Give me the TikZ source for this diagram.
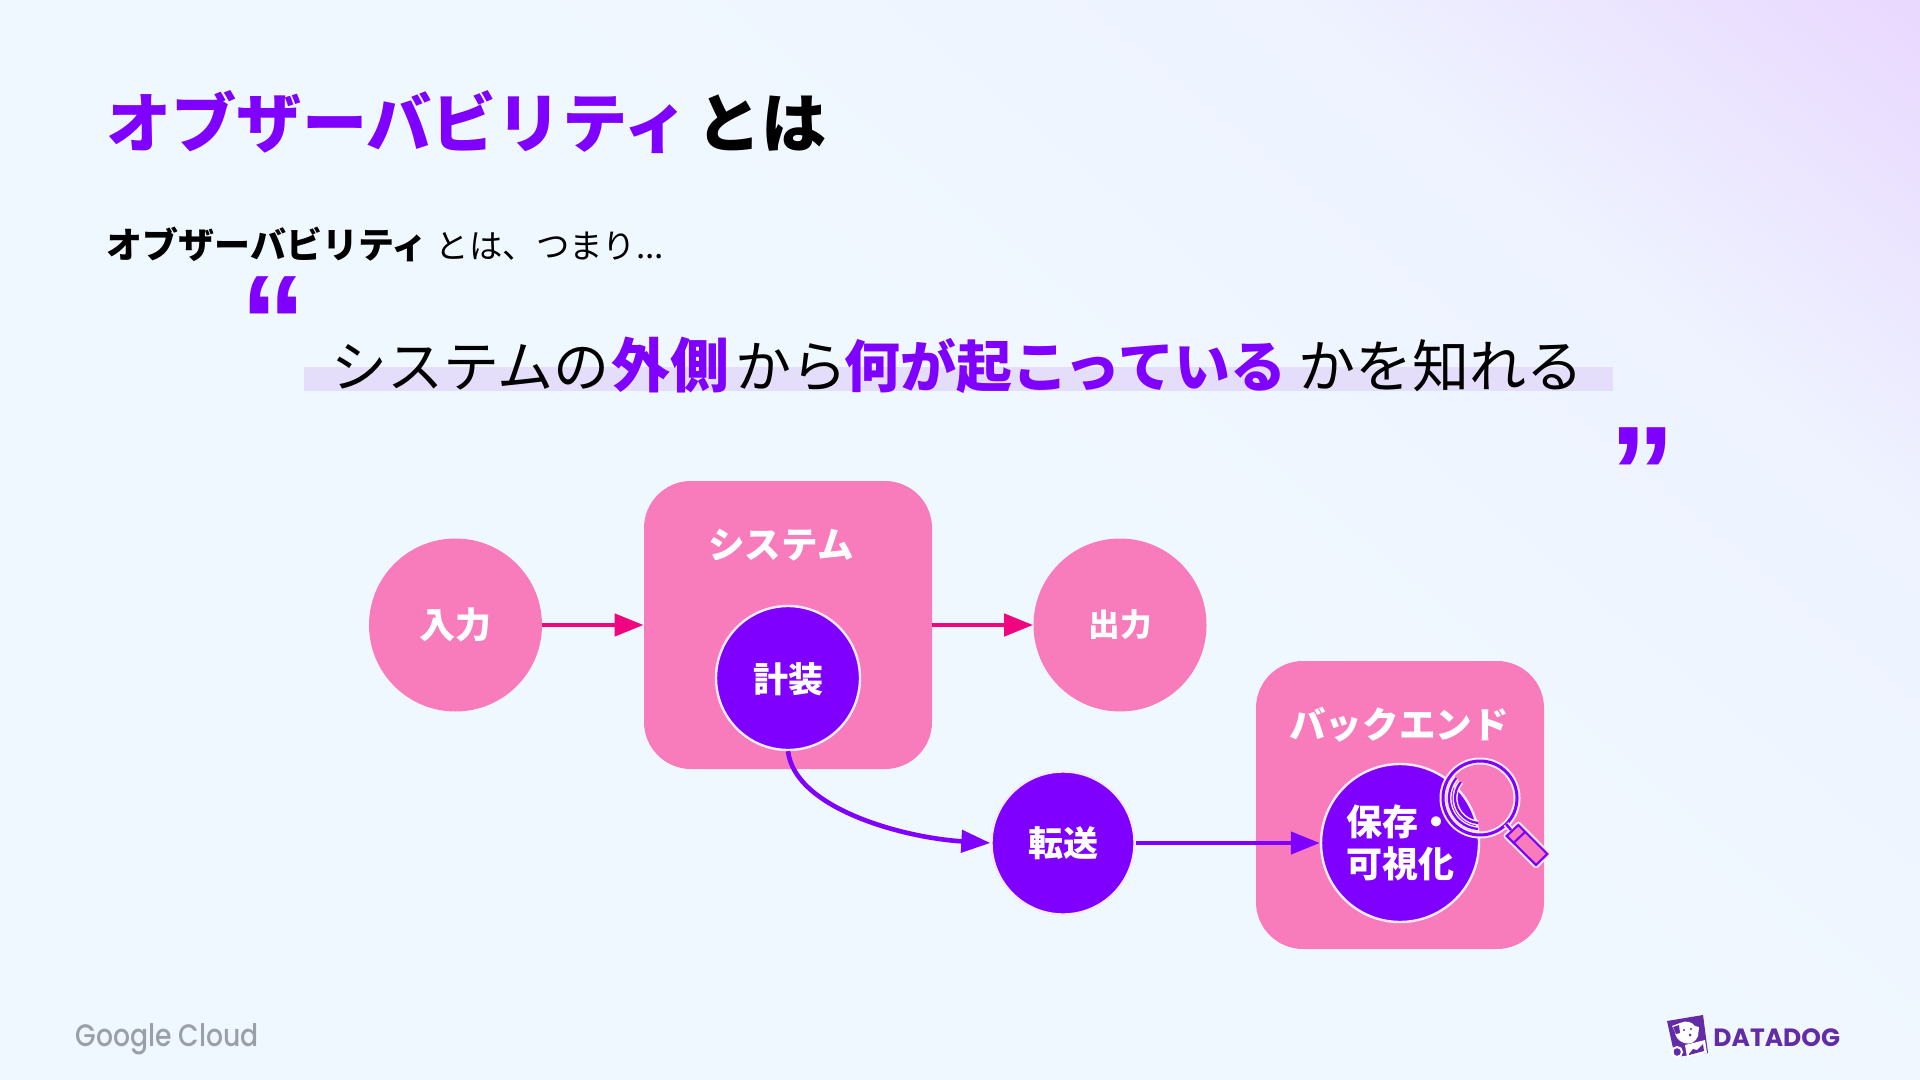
\documentclass[tikz,border=0pt]{standalone}
\usepackage{fontspec}
\setmainfont{Noto Sans CJK JP}
\newfontfamily\blackjp{Noto Sans CJK JP Black}
\newfontfamily\lat{Poppins}
\newfontfamily\latm{Poppins Medium}
\newfontfamily\quotefont{Liberation Sans}
\usetikzlibrary{arrows.meta}
\definecolor{vio}{HTML}{7F00FF}
\definecolor{pnk}{HTML}{F87BBB}
\definecolor{hot}{HTML}{F0047F}
\definecolor{hl}{HTML}{E5DEFA}
\definecolor{gc}{HTML}{9AA0A6}
\definecolor{dd}{HTML}{632CA6}
\definecolor{bga}{HTML}{F0F8FF}
\definecolor{bgb}{HTML}{EEF3FF}
\definecolor{bgc}{HTML}{E9D7FF}
\colorlet{rim}{white!92!vio}
\pgfdeclarehorizontalshading{bgd}{100bp}{color(0bp)=(bga);color(52bp)=(bga);color(62bp)=(bgb);color(70bp)=(bgc);color(100bp)=(bgc)}
\tikzset{
 x=0.5pt,y=-0.5pt,
 disc/.style={circle,fill=pnk,inner sep=0,minimum size=86.5pt},
 box/.style={rounded corners=23.5pt,fill=pnk,inner sep=0,minimum width=144pt,minimum height=144pt},
 dark/.style={circle,fill=vio,draw=rim,line width=1.2pt,inner sep=0},
 lbl/.style={text=white,font=\bfseries\fontsize{17.5}{21}\selectfont,inner sep=0,align=center},
 lblm/.style={text=white,font=\bfseries\fontsize{18.3}{21}\selectfont,inner sep=0,align=center},
 pinkarrow/.style={draw=hot,line width=2.3pt,-{Triangle[length=14.5pt,width=11pt,fill=hot]}},
 violetarrow/.style={draw=vio,line width=2.3pt,-{Triangle[length=14.5pt,width=11pt,fill=vio]}},
 qmark/.style={text=vio,inner sep=0,font=\quotefont\bfseries\fontsize{66}{66}\selectfont},
 glass/.style={draw=vio,line width=1.1pt}
}
\begin{document}
\begin{tikzpicture}
\useasboundingbox (0,0) rectangle (1920,1080);
\begin{scope}
\clip (0,0) rectangle (1920,1080);
\begin{scope}[transform canvas={rotate around={50:(960,540)}}]
\shade[shading=bgd] (-340,-760) rectangle (2260,1840);
\end{scope}
\end{scope}
% highlight
\fill[hl] (304,367) rectangle (1613,391);
% title
\node[anchor=west,inner sep=0,font=\blackjp\fontsize{32.6}{36}\selectfont] (title) at (106,122) {\textcolor{vio}{オブザーバビリティ}\hspace{4pt}とは};
\node[anchor=west,inner sep=0,font=\fontsize{16.7}{21}\selectfont] (sub) at (106,244) {{\bfseries\fontsize{18}{21}\selectfont オブザーバビリティ}\hspace{4pt}とは、つまり...};
\node[qmark,anchor=center] (qo) at (273,322) {“};
\node[anchor=west,inner sep=0,font=\fontsize{28}{34}\selectfont] (quote) at (331,365) {システムの\hspace{1pt}\textcolor{vio}{\bfseries\fontsize{29.5}{34}\selectfont 外側}\hspace{3pt}から\hspace{-1.5pt}\textcolor{vio}{\textbf{何が起こっている}}\hspace{6pt}{\fontsize{28.5}{34}\selectfont かを知れる}};
\node[qmark,anchor=center] (qc) at (1642,473) {”};
% nodes
\node[disc] (in) at (455.5,625) {};
\node[lbl,font=\bfseries\fontsize{18}{21}\selectfont] (intext) at (455.5,625) {入力};
\node[disc] (out) at (1120,625) {};
\node[lbl,font=\bfseries\fontsize{15.8}{21}\selectfont] (outtext) at (1120,625) {出力};
\node[box] (sys) at (788,625) {};
\node[lblm] (systext) at (781,545) {システム};
\node[dark,minimum size=72pt] (inst) at (788,678) {};
\node[lbl] (insttext) at (788,679) {計装};
\node[dark,minimum size=71.5pt] (send) at (1063,843) {};
\node[lbl] (sendtext) at (1063,843) {転送};
\node[box] (back) at (1400,805) {};
\node[lblm] (backtext) at (1399,725) {バックエンド};
\node[dark,minimum size=79pt] (store) at (1400,843) {};
\node[lbl,font=\bfseries\fontsize{18}{21}\selectfont] (storetext) at (1400,843) {保存・\\可視化};
% connectors
\draw[pinkarrow] (in.east) -- (sys.west|-in.east);
\draw[pinkarrow] (sys.east|-out.west) -- (out.west);
\draw[violetarrow] (inst.south) .. controls +(7,58) and +(-85,-5) .. (send.west);
\draw[violetarrow] (send.east) -- (store.west);
% magnifier
\draw[rim,line width=3.5pt] (1480,798) circle (37);
\draw[vio,line width=1.5pt] (1480,798) circle (37);
\foreach \r in {25,31} {
 \draw[rim,line width=2.6pt] (1480,798) ++(-140:\r) arc[start angle=-140,end angle=-266,radius=\r];
 \draw[vio,line width=1.1pt] (1480,798) ++(-140:\r) arc[start angle=-140,end angle=-266,radius=\r];
}
\draw[rim,line width=3.2pt,line join=round] (1518.3,825) -- (1547.3,854) -- (1536,865) -- (1506.7,836) -- cycle;
\draw[rim,line width=3pt] (1506,824) -- (1511,830);
\draw[vio,line width=1.3pt] (1506,824) -- (1511,830);
\draw[glass,fill=pnk] (1518.3,825) -- (1547.3,854) -- (1536,865) -- (1506.7,836) -- cycle;
\draw[glass] (1525,832) -- (1513.5,843);
% footer
\node[anchor=west,inner sep=0,text=gc,font=\latm\fontsize{15.5}{18}\selectfont] (gcloud) at (75,1039) {\scalebox{.86}[1]{Google Cloud}};
\node[anchor=west,inner sep=0,text=dd,font=\lat\bfseries\fontsize{12.5}{16}\selectfont] (ddtext) at (1713,1038) {DATADOG};
% Datadog mark
\fill[dd] (1667,1021) -- (1703,1015) -- (1708,1053) -- (1675,1057) -- cycle;
\fill[white] (1672,1026) -- (1680,1023) .. controls (1686,1020) and (1692,1022) .. (1695,1026) -- (1699,1027) -- (1698,1036) .. controls (1696,1042) and (1690,1045) .. (1684,1043) .. controls (1678,1041) and (1675,1036) .. (1675,1032) -- cycle;
\fill[dd] (1673,1027) -- (1679,1025) -- (1680,1033) -- (1676,1034) -- cycle;
\fill[dd] (1684,1030) circle (1.2) (1691,1029) circle (1.2) (1690,1035) circle (1.5);
\fill[white] (1685,1045) -- (1705,1040) -- (1707,1053) -- (1687,1057) -- cycle;
\fill[dd] (1689,1054) -- (1693,1049) -- (1697,1050) -- (1703,1044) -- (1704,1051) -- (1689,1055) -- cycle;
\draw[white,line width=1pt] (1677,1052) circle (5);
\end{tikzpicture}
\end{document}
